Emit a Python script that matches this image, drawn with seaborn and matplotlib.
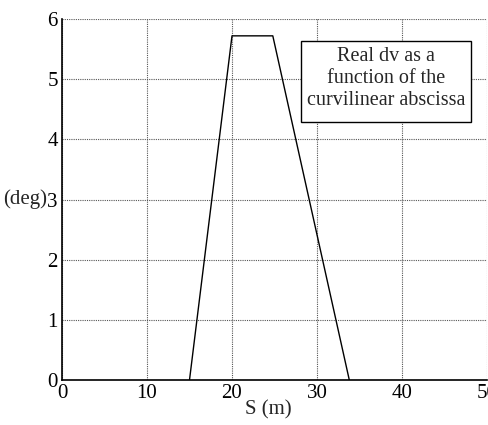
import matplotlib
matplotlib.use("Agg")
import matplotlib.pyplot as plt
from matplotlib.patches import Rectangle
import seaborn as sns
import pandas as pd

# Curvilinear abscissa (m) and real dv (deg)
s_m = [15.0, 20.0, 24.8, 33.8]
dv_deg = [0.0, 5.72, 5.72, 0.0]
x_ticks = [0, 10, 20, 30, 40, 50]
y_ticks = [0, 1, 2, 3, 4, 5, 6]

sns.set_style("white")
plt.rcParams["font.family"] = ["Liberation Serif", "DejaVu Serif"]

df = pd.DataFrame({"S": s_m, "dv": dv_deg})

fig = plt.figure(figsize=(4.88, 4.25), dpi=100)
ax = fig.add_axes([62 / 488, 1 - 380 / 425, 425 / 488, 361 / 425])

sns.lineplot(data=df, x="S", y="dv", ax=ax, color="black", linewidth=1.0,
             sort=False, estimator=None)

ax.set_xlim(0, 50)
ax.set_ylim(0, 6)
ax.set_xticks(x_ticks)
ax.set_yticks(y_ticks)
ax.tick_params(axis="both", length=0, labelsize=15, colors="black", pad=3)
ax.grid(True, linestyle=(0, (1.0, 1.0)), color="#555555", linewidth=0.8)

for side in ["top", "right"]:
    ax.spines[side].set_visible(False)
for side in ["left", "bottom"]:
    ax.spines[side].set_color("black")
    ax.spines[side].set_linewidth(1.2)

ax.set_xlabel("S (m)", fontsize=15)
ax.xaxis.set_label_coords(0.485, -0.055)
ax.set_ylabel("(deg)", fontsize=15, rotation=0, ha="right", va="center")
ax.yaxis.set_label_coords(-0.036, 0.5)

# Annotation box
box_l, box_r = (301 - 62) / 425, (471 - 62) / 425
box_b, box_t = (380 - 122) / 361, (380 - 41) / 361
ax.add_patch(Rectangle((box_l, box_b), box_r - box_l, box_t - box_b,
                       transform=ax.transAxes, facecolor="white",
                       edgecolor="black", linewidth=1.0, zorder=5))
ax.text((box_l + box_r) / 2, (box_b + box_t) / 2 + 0.008,
        "Real dv as a\nfunction of the\ncurvilinear abscissa",
        transform=ax.transAxes, ha="center", va="center", fontsize=14.5,
        linespacing=1.2, zorder=6)

fig.savefig("out.png", dpi=100)
